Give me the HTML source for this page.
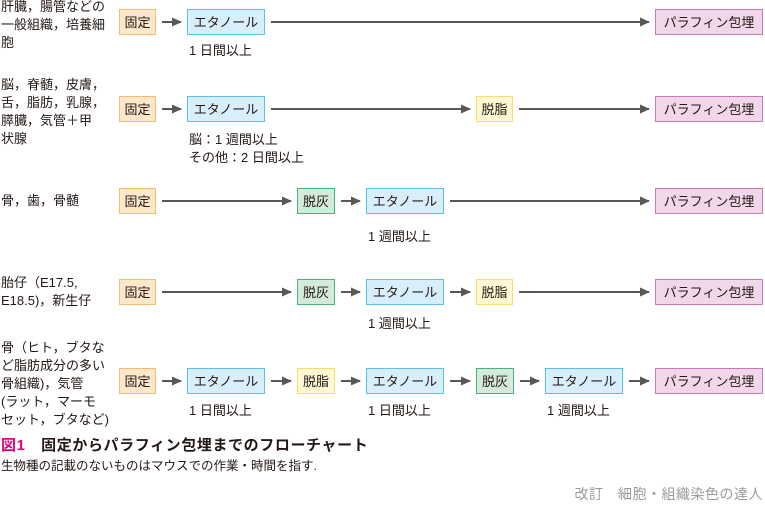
<!DOCTYPE html>
<html><head><meta charset="utf-8"><style>
body{margin:0;width:765px;height:515px;background:#fff;position:relative;overflow:hidden;font-family:"Liberation Sans","Noto Sans CJK JP",sans-serif;color:#231815}
.b{position:absolute;height:26px;line-height:26px;text-align:center;font-size:13px;box-sizing:border-box;border:1.5px solid}
.k{background:#fde8cb;border-color:#f4bd74}
.e{background:#d8eefa;border-color:#5cc2ec}
.d{background:#fff8d2;border-color:#f6df6e}
.h{background:#d4ebdc;border-color:#4cb27c}
.p{background:#f1d7ea;border-color:#c97ab6}
.t{position:absolute;font-size:13px;line-height:18px;white-space:nowrap}
svg{position:absolute;left:0;top:0}
</style></head><body>
<svg width="765" height="515">
<defs><marker id="a" markerWidth="10" markerHeight="10" refX="9" refY="5" orient="auto" markerUnits="userSpaceOnUse"><path d="M0,0.5 L10,5 L0,9.5 z" fill="#595757"/></marker></defs>
<g stroke="#595757" stroke-width="2" marker-end="url(#a)">
<line x1="162" y1="22" x2="181" y2="22"/><line x1="271" y1="22" x2="649" y2="22"/>
<line x1="162" y1="109" x2="181" y2="109"/><line x1="271" y1="109" x2="470" y2="109"/><line x1="519" y1="109" x2="649" y2="109"/>
<line x1="162" y1="201" x2="291" y2="201"/><line x1="341" y1="201" x2="360" y2="201"/><line x1="450" y1="201" x2="649" y2="201"/>
<line x1="162" y1="292" x2="291" y2="292"/><line x1="341" y1="292" x2="360" y2="292"/><line x1="450" y1="292" x2="470" y2="292"/><line x1="519" y1="292" x2="649" y2="292"/>
<line x1="162" y1="381" x2="181" y2="381"/><line x1="271" y1="381" x2="291" y2="381"/><line x1="341" y1="381" x2="360" y2="381"/><line x1="450" y1="381" x2="470" y2="381"/><line x1="520" y1="381" x2="539" y2="381"/><line x1="629" y1="381" x2="649" y2="381"/>
</g></svg>

<div class="t" style="left:1px;top:-2px">肝臓，腸管などの<br>一般組織，培養細<br>胞</div>
<div class="b k" style="left:119px;top:9px;width:37px">固定</div>
<div class="b e" style="left:187px;top:9px;width:78px">エタノール</div>
<div class="b p" style="left:655px;top:9px;width:108px">パラフィン包埋</div>
<div class="t" style="left:189px;top:42px">1 日間以上</div>

<div class="t" style="left:1px;top:76px">脳，脊髄，皮膚，<br>舌，脂肪，乳腺，<br>膵臓，気管＋甲<br>状腺</div>
<div class="b k" style="left:119px;top:96px;width:37px">固定</div>
<div class="b e" style="left:187px;top:96px;width:78px">エタノール</div>
<div class="b d" style="left:476px;top:96px;width:37px">脱脂</div>
<div class="b p" style="left:655px;top:96px;width:108px">パラフィン包埋</div>
<div class="t" style="left:189px;top:131px">脳：1 週間以上<br>その他：2 日間以上</div>

<div class="t" style="left:1px;top:192px">骨，歯，骨髄</div>
<div class="b k" style="left:119px;top:188px;width:37px">固定</div>
<div class="b h" style="left:297px;top:188px;width:38px">脱灰</div>
<div class="b e" style="left:366px;top:188px;width:78px">エタノール</div>
<div class="b p" style="left:655px;top:188px;width:108px">パラフィン包埋</div>
<div class="t" style="left:368px;top:228px">1 週間以上</div>

<div class="t" style="left:1px;top:274px">胎仔（E17.5,<br>E18.5)，新生仔</div>
<div class="b k" style="left:119px;top:279px;width:37px">固定</div>
<div class="b h" style="left:297px;top:279px;width:38px">脱灰</div>
<div class="b e" style="left:366px;top:279px;width:78px">エタノール</div>
<div class="b d" style="left:476px;top:279px;width:37px">脱脂</div>
<div class="b p" style="left:655px;top:279px;width:108px">パラフィン包埋</div>
<div class="t" style="left:368px;top:315px">1 週間以上</div>

<div class="t" style="left:1px;top:339px">骨（ヒト，ブタな<br>ど脂肪成分の多い<br>骨組織)，気管<br>(ラット，マーモ<br>セット，ブタなど)</div>
<div class="b k" style="left:119px;top:368px;width:37px">固定</div>
<div class="b e" style="left:187px;top:368px;width:78px">エタノール</div>
<div class="b d" style="left:297px;top:368px;width:38px">脱脂</div>
<div class="b e" style="left:366px;top:368px;width:78px">エタノール</div>
<div class="b h" style="left:476px;top:368px;width:38px">脱灰</div>
<div class="b e" style="left:545px;top:368px;width:78px">エタノール</div>
<div class="b p" style="left:655px;top:368px;width:108px">パラフィン包埋</div>
<div class="t" style="left:189px;top:402px">1 日間以上</div>
<div class="t" style="left:368px;top:402px">1 日間以上</div>
<div class="t" style="left:547px;top:402px">1 週間以上</div>

<div class="t" style="left:1px;top:437px;font-size:15px;font-weight:bold;letter-spacing:0.6px"><span style="color:#e4007f">図1</span>　固定からパラフィン包埋までのフローチャート</div>
<div class="t" style="left:1px;top:457px;font-size:12.5px">生物種の記載のないものはマウスでの作業・時間を指す.</div>
<div class="t" style="right:2px;top:485px;font-size:14px;letter-spacing:0.5px;color:#9a9a9a">改訂　細胞・組織染色の達人</div>
</body></html>
